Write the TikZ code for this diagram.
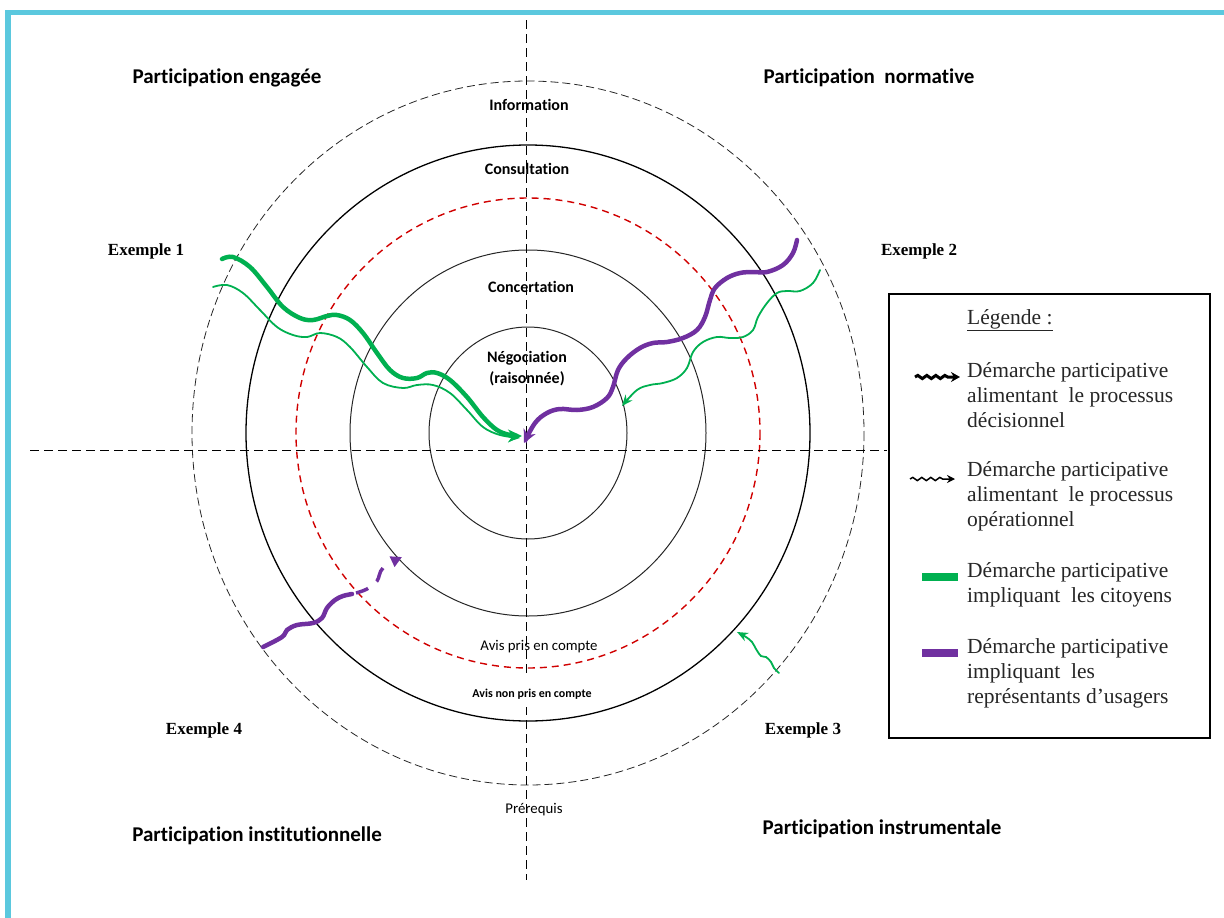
\documentclass[tikz,border=0pt]{standalone}
\usepackage{fontspec}
\setmainfont{Liberation Serif}
\newfontfamily\calib[Ligatures=NoCommon]{Carlito}
\usetikzlibrary{arrows.meta,decorations.pathmorphing}
\definecolor{frameblue}{HTML}{5BC8DE}
\definecolor{mygreen}{HTML}{00B050}
\definecolor{mypurple}{HTML}{7030A0}
\definecolor{myred}{HTML}{D00000}
\begin{document}
\begin{tikzpicture}[x=1pt,y=-1pt,
  quadtitle/.style={font=\calib\bfseries\fontsize{21}{23}\selectfont},
  ringlabel/.style={font=\calib\bfseries\fontsize{16}{21}\selectfont,align=center},
  smalllabel/.style={font=\calib\fontsize{14.8}{16}\selectfont},
  exlabel/.style={font=\bfseries\fontsize{17}{19}\selectfont},
  legtext/.style={font=\fontsize{21.5}{25}\selectfont,text=black!85,align=left,anchor=west,inner sep=0pt},
  axisline/.style={line width=0.9pt,dash pattern=on 9pt off 5pt},
  outerring/.style={line width=0.8pt,black!85,dash pattern=on 8pt off 4pt},
  mainring/.style={line width=1.3pt},
  thinring/.style={line width=1pt,black!85},
  redring/.style={line width=1.4pt,myred,dash pattern=on 7pt off 5pt},
  greenthick/.style={mygreen,line width=4.5pt,line cap=round,-{Stealth[length=14pt,width=13pt]}},
  greenthin/.style={mygreen,line width=1.8pt,line cap=round,-{Stealth[length=11pt,width=9pt]}},
  purplethick/.style={mypurple,line width=4.5pt,line cap=round,-{Stealth[length=13pt,width=13pt]}},
  legsnake/.style={black,decorate,decoration={snake,amplitude=1.6pt,segment length=9pt,post length=8pt}}
]
\useasboundingbox (0,0) rectangle (1224,918);
% frame
\fill[frameblue] (5,10) rectangle (1224,15);
\fill[frameblue] (5,10) rectangle (11,918);

% rings
\coordinate (c) at (528,433);
\draw[outerring] (c) ellipse [x radius=336, y radius=352];
\draw[mainring] (c) ellipse [x radius=282, y radius=288];
\draw[redring] (c) ellipse [x radius=232, y radius=235];
\draw[thinring] (c) ellipse [x radius=178, y radius=183];
\draw[thinring] (c) ellipse [x radius=99, y radius=106];

% axes
\coordinate (vtop) at (526,20);
\coordinate (vbot) at (526,880);
\coordinate (hleft) at (30,450);
\coordinate (hright) at (887,450);
\draw[axisline] (vtop) -- (vbot);
\draw[axisline] (hleft) -- (hright);

% white patch behind label
\fill[white] (447,673) rectangle (613,707);

% ring labels
\node[ringlabel] (info) at (529,105) {Information};
\node[ringlabel] (consu) at (527,169) {Consultation};
\node[ringlabel] (conce) at (531,287) {Concertation};
\node[ringlabel] (nego) at (527,369) {Négociation\\(raisonnée)};
\node[smalllabel] (avis) at (539,647) {Avis pris en compte};
\node[font=\calib\bfseries\fontsize{12}{14}\selectfont] (avisnon) at (532,694) {Avis non pris en compte};
\node[smalllabel] (prereq) at (534,810) {Prérequis};

% quadrant titles
\node[quadtitle] (q1) at (227,78) {Participation engagée};
\node[quadtitle] (q2) at (869,78) {Participation\ \ normative};
\node[quadtitle] (q3) at (257,836) {Participation institutionnelle};
\node[quadtitle] (q4) at (882,829) {Participation instrumentale};

% example labels
\node[exlabel] (ex1) at (146,251) {Exemple 1};
\node[exlabel] (ex2) at (919,251) {Exemple 2};
\node[exlabel] (ex3) at (803,730) {Exemple 3};
\node[exlabel] (ex4) at (204,730) {Exemple 4};

% Example 1
\coordinate (e1s) at (222,259);
\coordinate (e1e) at (522,436);
\coordinate (e1ts) at (213,287);
\coordinate (e1te) at (520,438);
\draw[greenthin] plot[smooth,tension=0.6] coordinates {(e1ts) (227,285) (243,293) (260,310) (277,327) (293,335) (307,337) (320,333) (337,337) (350,347) (367,367) (383,383) (403,388) (417,385) (433,385) (450,393) (467,410) (483,427) (500,435) (e1te)};
\draw[greenthick] plot[smooth,tension=0.6] coordinates {(e1s) (233,257) (250,267) (267,287) (283,307) (300,318) (313,320) (327,316) (337,315) (350,320) (363,333) (377,353) (390,370) (403,378) (417,378) (427,373) (437,373) (450,380) (467,397) (483,417) (497,430) (510,435) (e1e)};

% Example 2
\coordinate (e2s) at (797,240);
\coordinate (e2e) at (524,443);
\coordinate (e2ts) at (820,270);
\coordinate (e2te) at (622,406);
\draw[greenthin] plot[smooth,tension=0.6] coordinates {(e2ts) (813,283) (800,291) (787,291) (777,293) (767,303) (758,317) (753,330) (743,337) (730,338) (717,337) (703,342) (693,352) (687,368) (677,378) (663,383) (650,385) (637,390) (e2te)};
\draw[purplethick] plot[smooth,tension=0.6] coordinates {(e2s) (793,253) (783,265) (767,272) (753,272) (740,273) (727,278) (715,288) (710,300) (705,317) (697,330) (683,338) (667,342) (653,343) (640,348) (627,358) (618,370) (613,387) (607,398) (593,407) (577,410) (560,409) (547,413) (535,423) (e2e)};

% Example 3
\coordinate (e3s) at (779,673);
\coordinate (e3e) at (737,632);
\draw[greenthin] plot[smooth,tension=0.6] coordinates {(e3s) (774,668) (771,662) (766,657) (761,656) (756,649) (752,642) (746,637) (e3e)};

% Example 4
\coordinate (e4s) at (263,647);
\coordinate (e4m) at (352,594);
\coordinate (e4e) at (402,557);
\draw[mypurple,line width=4.5pt,line cap=round] plot[smooth,tension=0.6] coordinates {(e4s) (282,637) (287,630) (297,625) (313,623) (322,618) (327,608) (335,600) (343,596) (e4m)};
\draw[mypurple,line width=3.5pt,dash pattern=on 13pt off 11pt on 15pt off 30pt,-{Triangle[length=11pt,width=11pt]}] plot[smooth,tension=0.6] coordinates {(356,593) (367,589) (377,581) (383,568) (e4e)};

% legend
\node[draw,line width=1.5pt,minimum width=321pt,minimum height=444pt,anchor=north west,inner sep=0pt] (legbox) at (888,293) {};
\node[legtext] (legtitle) at (967,320) {\underline{Légende :}};
\coordinate (l1a) at (915,377);
\coordinate (l1b) at (960,377);
\draw[legsnake,line width=3pt,-{Stealth[length=9pt,width=10pt]}] (l1a) -- (l1b);
\node[legtext] (leg1) at (967,395) {Démarche participative\\alimentant\ \ le processus\\décisionnel};
\coordinate (l2a) at (910,479);
\coordinate (l2b) at (955,479);
\draw[legsnake,line width=1.5pt,-{Stealth[length=8pt,width=8pt]}] (l2a) -- (l2b);
\node[legtext] (leg2) at (967,496) {Démarche participative\\alimentant\ \ le processus\\opérationnel};
\coordinate (l3a) at (922,577);
\coordinate (l3b) at (958,577);
\draw[mygreen,line width=8pt] (l3a) -- (l3b);
\node[legtext] (leg3) at (967,585) {Démarche participative\\impliquant\ \ les citoyens};
\coordinate (l4a) at (922,653);
\coordinate (l4b) at (958,653);
\draw[mypurple,line width=8pt] (l4a) -- (l4b);
\node[legtext] (leg4) at (967,673) {Démarche participative\\impliquant\ \ les\\représentants d'usagers};
\end{tikzpicture}
\end{document}
